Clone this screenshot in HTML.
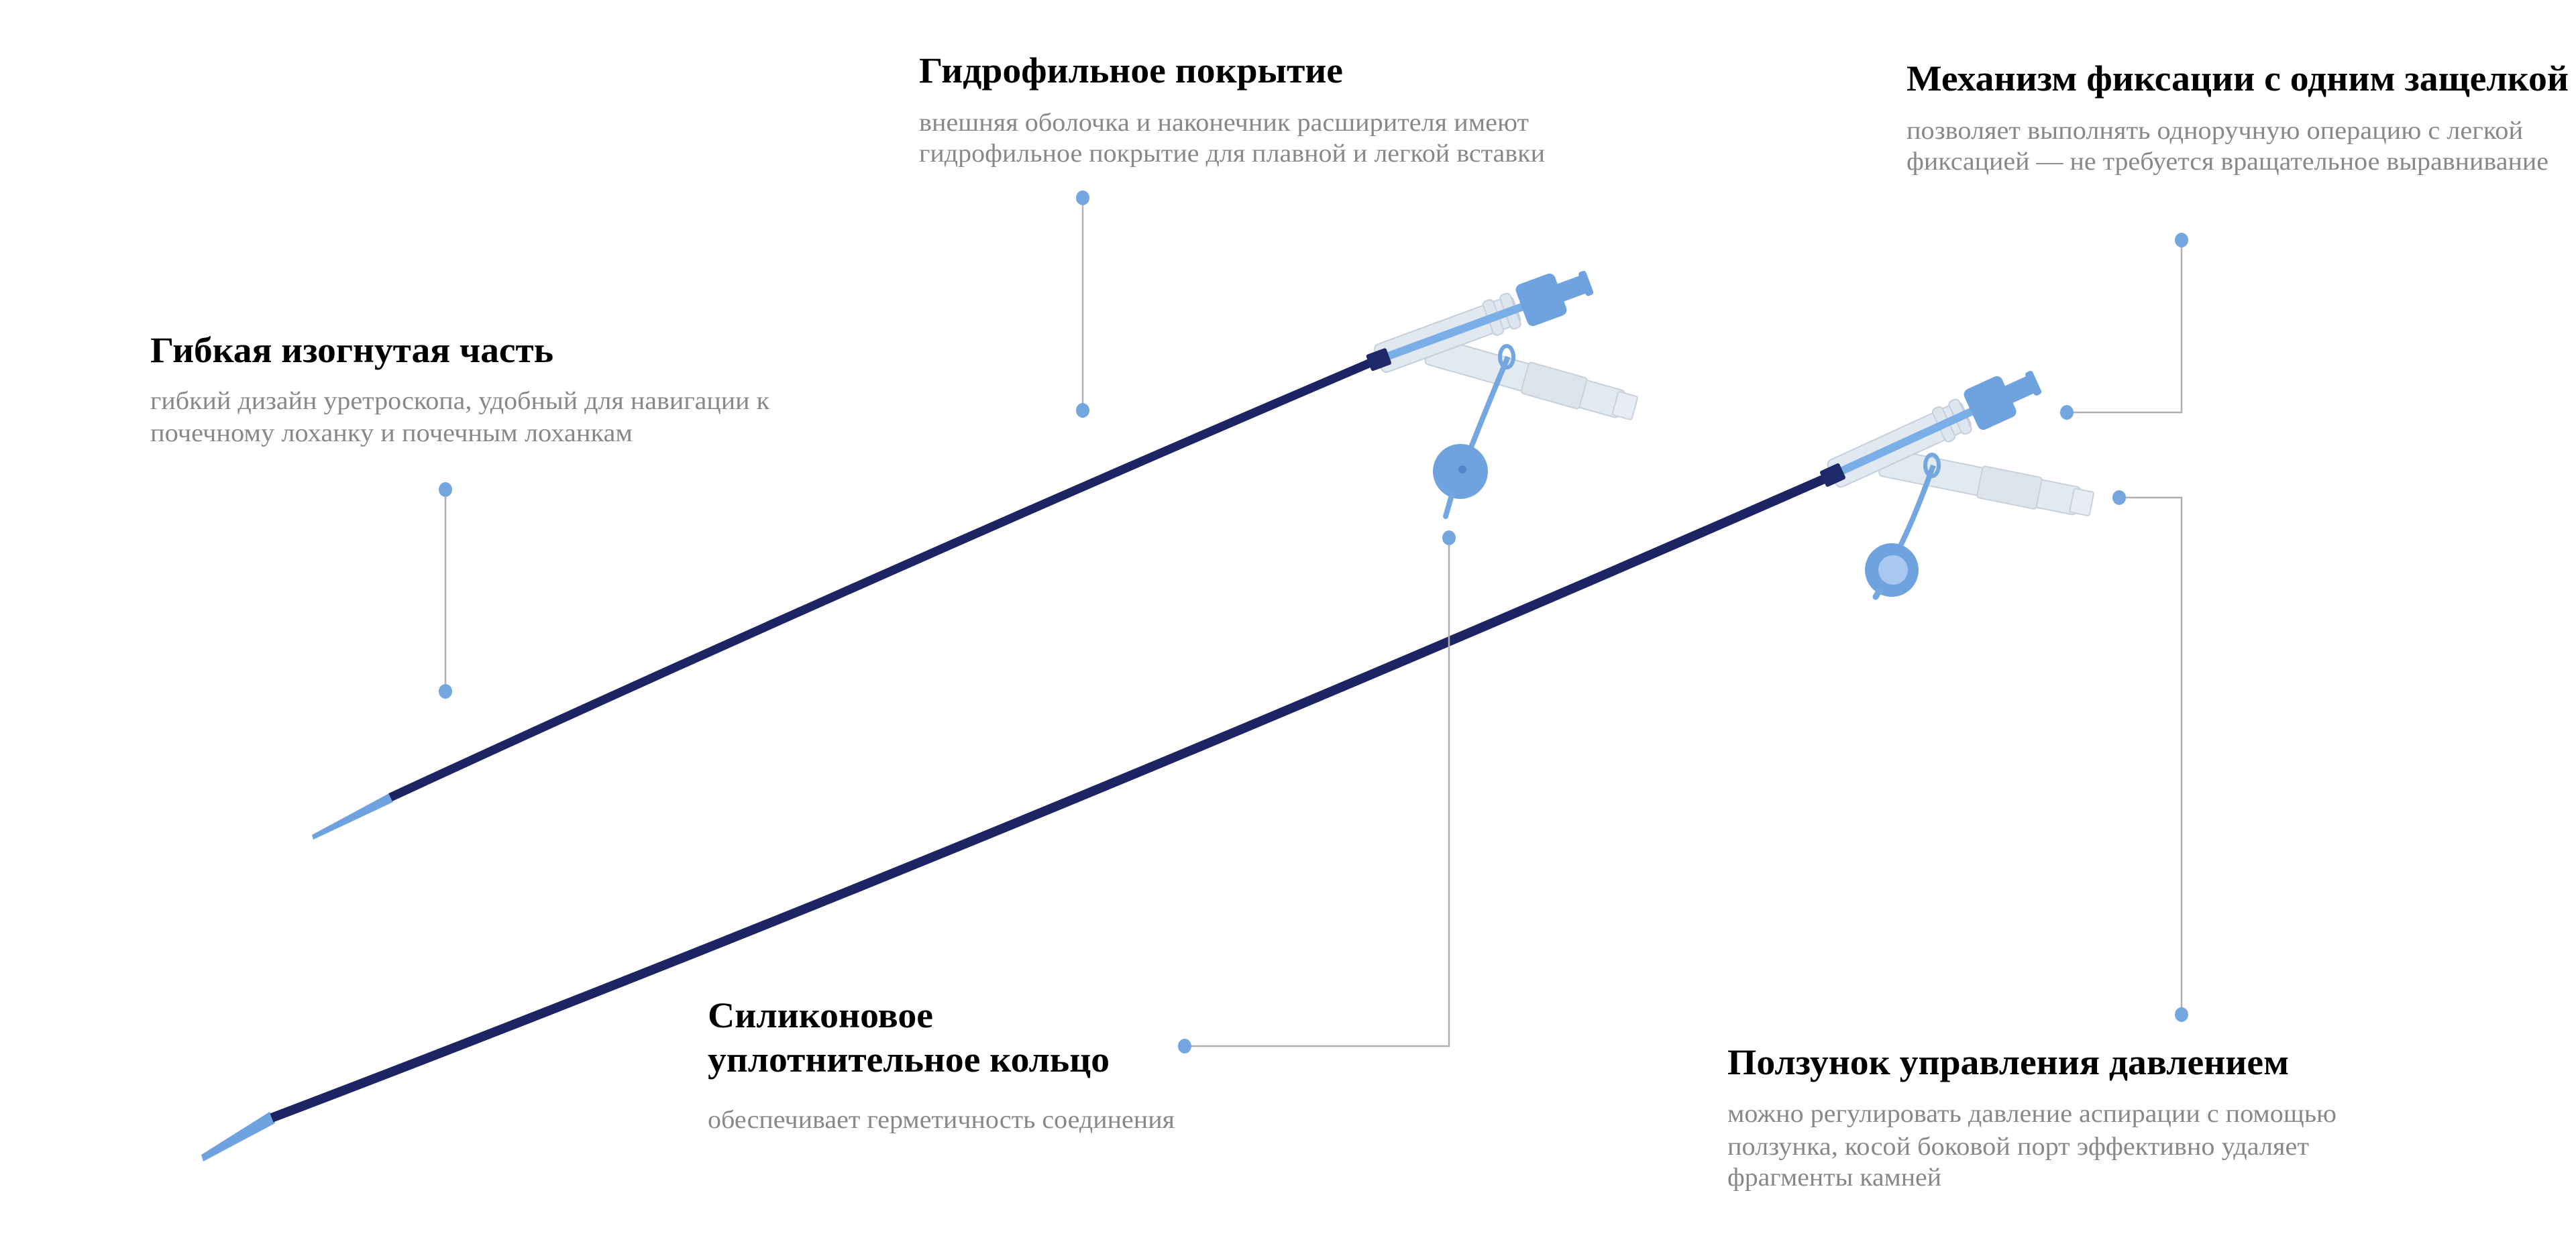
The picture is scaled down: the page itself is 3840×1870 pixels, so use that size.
<!DOCTYPE html>
<html><head><meta charset="utf-8"><style>
html,body{margin:0;padding:0;background:#fff;}
svg{display:block;}
.h{font-family:"Liberation Serif","Noto Serif CJK SC",serif;font-weight:bold;font-size:54px;fill:#000;}
.b{font-family:"Liberation Serif","Noto Serif CJK SC",serif;font-size:38px;fill:#888;}
.ln{stroke:#b0b0b0;stroke-width:2.5;fill:none;}
.dt{fill:#74a7df;}
</style></head><body>
<svg width="3840" height="1870" viewBox="0 0 3840 1870" xmlns="http://www.w3.org/2000/svg">
<defs>
<g id="hub">
  <g transform="translate(85,12) rotate(36)">
    <rect x="0" y="-21" width="300" height="42" rx="6" fill="#e3e9f1" stroke="#c5d0dd" stroke-width="2"/>
    <rect x="150" y="-24" width="90" height="48" rx="4" fill="#dde4ee" stroke="#c8d2de" stroke-width="2"/>
    <rect x="290" y="-18" width="30" height="36" rx="3" fill="#e8edf3" stroke="#c8d2de" stroke-width="2"/>
  </g>
  <rect x="10" y="-22" width="220" height="44" rx="8" fill="#e1e8f1" stroke="#c3cfdc" stroke-width="2"/>
  <rect x="185" y="-27" width="16" height="54" rx="6" fill="#dde5ef" stroke="#c5d0dc" stroke-width="2"/>
  <rect x="212" y="-27" width="16" height="54" rx="6" fill="#dde5ef" stroke="#c5d0dc" stroke-width="2"/>
  <rect x="25" y="-6" width="240" height="12" fill="#7aaee6"/>
  <rect x="-5" y="-13" width="32" height="26" rx="3" fill="#1f2a6b"/>
  <rect x="238" y="-33" width="62" height="66" rx="9" fill="#6fa3e0"/>
  <rect x="295" y="-14" width="45" height="28" fill="#6fa3e0"/>
  <rect x="334" y="-19" width="12" height="38" rx="4" fill="#6fa3e0"/>
</g>
</defs>

<!-- upper catheter -->
<polygon points="467,1252 465,1245 580,1183 586,1196" fill="#6fa3e0"/>
<path d="M582,1189 Q1250,880 2045,540" stroke="#1d2463" stroke-width="13" fill="none"/>
<use href="#hub" transform="translate(2045,540) rotate(-20.2)"/>
<path d="M2248,532 Q2215,610 2180,700" stroke="#74a7df" stroke-width="8" fill="none"/>
<ellipse cx="2246" cy="532" rx="10" ry="16" fill="none" stroke="#74a7df" stroke-width="6"/>
<circle cx="2177" cy="703" r="41" fill="#6fa3e0"/>
<circle cx="2180" cy="700" r="6" fill="#4f86cc"/>
<path d="M2165,735 L2155,770" stroke="#74a7df" stroke-width="8" stroke-linecap="round"/>

<!-- lower catheter -->
<polygon points="303,1732 300,1722 402,1658 410,1675" fill="#6fa3e0"/>
<path d="M405,1667 Q1500,1250 2722,713" stroke="#1d2463" stroke-width="14" fill="none"/>
<use href="#hub" transform="translate(2722,713) rotate(-24.6)"/>
<path d="M2882,694 Q2855,770 2830,820" stroke="#74a7df" stroke-width="8" fill="none"/>
<ellipse cx="2880" cy="694" rx="10" ry="16" fill="none" stroke="#74a7df" stroke-width="6"/>
<circle cx="2820" cy="850" r="40" fill="#6fa3e0"/>
<circle cx="2822" cy="850" r="22" fill="#a9c8ef"/>
<path d="M2802,880 L2796,890" stroke="#74a7df" stroke-width="9" stroke-linecap="round"/>

<!-- connectors -->
<line class="ln" x1="664" y1="730" x2="664" y2="1031"/>
<ellipse class="dt" cx="664" cy="730" rx="10" ry="11"/>
<ellipse class="dt" cx="664" cy="1031" rx="10" ry="11"/>

<line class="ln" x1="1614" y1="295" x2="1614" y2="612"/>
<ellipse class="dt" cx="1614" cy="295" rx="10" ry="11"/>
<ellipse class="dt" cx="1614" cy="612" rx="10" ry="11"/>

<polyline class="ln" points="3252,358 3252,615 3081,615"/>
<ellipse class="dt" cx="3252" cy="358" rx="10" ry="11"/>
<ellipse class="dt" cx="3081" cy="615" rx="10" ry="11"/>

<polyline class="ln" points="3252,1513 3252,742 3159,742"/>
<ellipse class="dt" cx="3252" cy="1513" rx="10" ry="11"/>
<ellipse class="dt" cx="3159" cy="742" rx="10" ry="11"/>

<polyline class="ln" points="1766,1560 2160,1560 2160,802"/>
<ellipse class="dt" cx="1766" cy="1560" rx="10" ry="11"/>
<ellipse class="dt" cx="2160" cy="802" rx="10" ry="11"/>

<!-- texts -->
<text class="h" x="224" y="540" textLength="601" lengthAdjust="spacingAndGlyphs">Гибкая изогнутая часть</text>
<text class="b" x="224" y="610" textLength="923" lengthAdjust="spacingAndGlyphs">гибкий дизайн уретроскопа, удобный для навигации к</text>
<text class="b" x="224" y="658" textLength="719" lengthAdjust="spacingAndGlyphs">почечному лоханку и почечным лоханкам</text>

<text class="h" x="1370" y="123" textLength="632" lengthAdjust="spacingAndGlyphs">Гидрофильное покрытие</text>
<text class="b" x="1370" y="195" textLength="909" lengthAdjust="spacingAndGlyphs">внешняя оболочка и наконечник расширителя имеют</text>
<text class="b" x="1370" y="241" textLength="933" lengthAdjust="spacingAndGlyphs">гидрофильное покрытие для плавной и легкой вставки</text>

<text class="h" x="2842" y="135" textLength="987" lengthAdjust="spacingAndGlyphs">Механизм фиксации с одним защелкой</text>
<text class="b" x="2842" y="207" textLength="919" lengthAdjust="spacingAndGlyphs">позволяет выполнять одноручную операцию с легкой</text>
<text class="b" x="2842" y="253" textLength="957" lengthAdjust="spacingAndGlyphs">фиксацией — не требуется вращательное выравнивание</text>

<text class="h" x="1055" y="1532" textLength="336" lengthAdjust="spacingAndGlyphs">Силиконовое</text>
<text class="h" x="1055" y="1598" textLength="599" lengthAdjust="spacingAndGlyphs">уплотнительное кольцо</text>
<text class="b" x="1055" y="1682" textLength="696" lengthAdjust="spacingAndGlyphs">обеспечивает герметичность соединения</text>

<text class="h" x="2575" y="1602" textLength="837" lengthAdjust="spacingAndGlyphs">Ползунок управления давлением</text>
<text class="b" x="2575" y="1673" textLength="908" lengthAdjust="spacingAndGlyphs">можно регулировать давление аспирации с помощью</text>
<text class="b" x="2575" y="1722" textLength="867" lengthAdjust="spacingAndGlyphs">ползунка, косой боковой порт эффективно удаляет</text>
<text class="b" x="2575" y="1768" textLength="319" lengthAdjust="spacingAndGlyphs">фрагменты камней</text>
</svg>
</body></html>
